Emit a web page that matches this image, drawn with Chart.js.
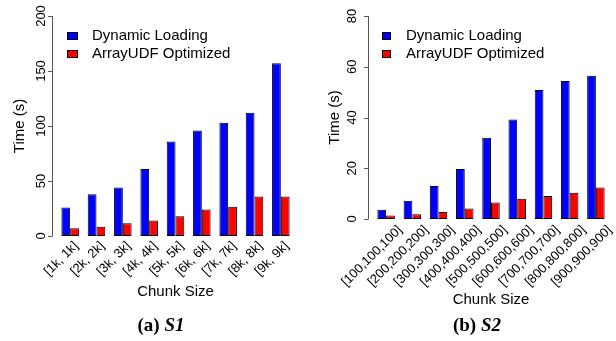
<!DOCTYPE html>
<html>
<head>
<meta charset="utf-8">
<script src="https://cdn.jsdelivr.net/npm/chart.js@4/dist/chart.umd.min.js"></script>
<style>
  body { margin: 0; background: #fff; }
  #wrap { position: relative; width: 616px; height: 341px; overflow: hidden; }
  .panel { position: absolute; top: 0; width: 308px; height: 341px; }
  .caption {
    position: absolute; top: 314px; width: 120px; text-align: center;
    font-family: "Liberation Serif", serif; font-weight: bold; font-size: 19px; color: #000;
  }
  .caption i { font-style: italic; }
</style>
</head>
<body>
<div id="wrap">
  <div class="panel" style="left:0"><canvas id="chart-s1" width="308" height="341"></canvas></div>
  <div class="panel" style="left:308px"><canvas id="chart-s2" width="308" height="341"></canvas></div>
  <div class="caption" style="left:101px">(a) <i>S1</i></div>
  <div class="caption" style="left:417px">(b) <i>S2</i></div>
</div>
<script>
// chart data
const seriesNames = ['Dynamic Loading', 'ArrayUDF Optimized'];

const categoriesS1 = ['[1k, 1k]', '[2k, 2k]', '[3k, 3k]', '[4k, 4k]', '[5k, 5k]',
                      '[6k, 6k]', '[7k, 7k]', '[8k, 8k]', '[9k, 9k]'];
const dynamicS1 = [26, 38, 44, 61, 86, 96, 103, 112, 157];
const optimizedS1 = [7, 8.5, 11.5, 14, 18, 24, 26.7, 35.8, 35.8];
const yTicksS1 = [0, 50, 100, 150, 200];

const categoriesS2 = ['[100,100,100]', '[200,200,200]', '[300,300,300]', '[400,400,400]',
                      '[500,500,500]', '[600,600,600]', '[700,700,700]', '[800,800,800]',
                      '[900,900,900]'];
const dynamicS2 = [3.6, 7.2, 13, 19.7, 32, 39.2, 50.8, 54.4, 56.5];
const optimizedS2 = [1.4, 1.9, 2.8, 4.1, 6.5, 8, 9.1, 10.3, 12.4];
const yTicksS2 = [0, 20, 40, 60, 80];

const colors = ['#0000ff', '#ff0000'];
const SANS = '"Liberation Sans", Arial, sans-serif';

// R-style axes, labels and legend drawn from the chart's scales
const baseAxesPlugin = {
    id: 'baseAxes',
    afterDraw(chart, args, opts) {
        const ctx = chart.ctx;
        const x = chart.scales.x;
        const y = chart.scales.y;
        const area = chart.chartArea;
        const unit = (x.getPixelForValue(1) - x.getPixelForValue(0)) / 3;
        const axisX = area.left - 0.54 * unit;
        const ticks = opts.yTicks;

        ctx.save();
        ctx.strokeStyle = '#555';
        ctx.lineWidth = 1;
        ctx.beginPath();
        ctx.moveTo(Math.round(axisX) + 0.5, y.getPixelForValue(ticks[0]));
        ctx.lineTo(Math.round(axisX) + 0.5, y.getPixelForValue(ticks[ticks.length - 1]));
        ticks.forEach(t => {
            const py = Math.round(y.getPixelForValue(t)) + 0.5;
            ctx.moveTo(Math.round(axisX) + 0.5, py);
            ctx.lineTo(Math.round(axisX) - 4, py);
        });
        ctx.stroke();

        // y tick labels, rotated like R's las=0
        ctx.fillStyle = '#000';
        ctx.font = '13px ' + SANS;
        ctx.textAlign = 'center';
        ctx.textBaseline = 'middle';
        ticks.forEach(t => {
            ctx.save();
            ctx.translate(axisX - opts.tickLabelGap, y.getPixelForValue(t));
            ctx.rotate(-Math.PI / 2);
            ctx.fillText(String(t), 0, 0);
            ctx.restore();
        });

        // y title
        ctx.font = '15px ' + SANS;
        ctx.save();
        ctx.translate(axisX - opts.titleGap, (y.top + y.bottom) / 2);
        ctx.rotate(-Math.PI / 2);
        ctx.fillText('Time (s)', 0, 0);
        ctx.restore();

        // x tick labels at 45 degrees
        ctx.font = '13px ' + SANS;
        ctx.textAlign = 'right';
        const base = y.getPixelForValue(0);
        chart.data.labels.forEach((lab, i) => {
            ctx.save();
            ctx.translate(x.getPixelForValue(i) + opts.xLabelDx, base + opts.xLabelDy);
            ctx.rotate(-Math.PI / 4);
            ctx.fillText(lab, 0, 0);
            ctx.restore();
        });

        // x title
        ctx.font = '15px ' + SANS;
        ctx.textAlign = 'center';
        ctx.fillText('Chunk Size', (area.left + area.right) / 2, opts.xTitleY);

        // legend
        chart.data.datasets.forEach((ds, i) => {
            const ly = opts.legendY + i * 18;
            ctx.fillStyle = ds.backgroundColor;
            ctx.fillRect(opts.legendX, ly - 4, opts.legendBox, 8);
            ctx.strokeStyle = '#000';
            ctx.strokeRect(opts.legendX + 0.5, ly - 3.5, opts.legendBox - 1, 7);
            ctx.fillStyle = '#000';
            ctx.font = '15px ' + SANS;
            ctx.textAlign = 'left';
            ctx.fillText(ds.label, opts.legendX + opts.legendTextGap, ly);
        });
        ctx.restore();
    }
};

function makeChart(id, categories, dynamic, optimized, yTicks, cfg) {
    return new Chart(document.getElementById(id), {
        type: 'bar',
        data: {
            labels: categories,
            datasets: [dynamic, optimized].map((vals, i) => ({
                label: seriesNames[i],
                data: vals,
                backgroundColor: colors[i],
                borderColor: '#000',
                borderWidth: 1,
                borderSkipped: false,
                categoryPercentage: 2 / 3,
                barPercentage: 1
            }))
        },
        options: {
            responsive: false,
            animation: false,
            devicePixelRatio: 1,
            layout: { padding: cfg.padding },
            plugins: {
                legend: { display: false },
                tooltip: { enabled: false },
                baseAxes: Object.assign({ yTicks: yTicks }, cfg.axes)
            },
            scales: {
                x: { display: false },
                y: { display: false, min: yTicks[0], max: yTicks[yTicks.length - 1] }
            }
        },
        plugins: [baseAxesPlugin]
    });
}

makeChart('chart-s1', categoriesS1, dynamicS1, optimizedS1, yTicksS1, {
    padding: { left: 57, right: 14, top: 16, bottom: 105 },
    axes: { tickLabelGap: 10.5, titleGap: 32, xLabelDx: 6, xLabelDy: 8, xTitleY: 292,
            legendX: 67, legendY: 36, legendBox: 11, legendTextGap: 25 }
});

makeChart('chart-s2', categoriesS2, dynamicS2, optimizedS2, yTicksS2, {
    padding: { left: 65, right: 7, top: 16, bottom: 122 },
    axes: { tickLabelGap: 16, titleGap: 33, xLabelDx: 14, xLabelDy: 9, xTitleY: 300,
            legendX: 74, legendY: 36, legendBox: 9, legendTextGap: 24 }
});
</script>
</body>
</html>
